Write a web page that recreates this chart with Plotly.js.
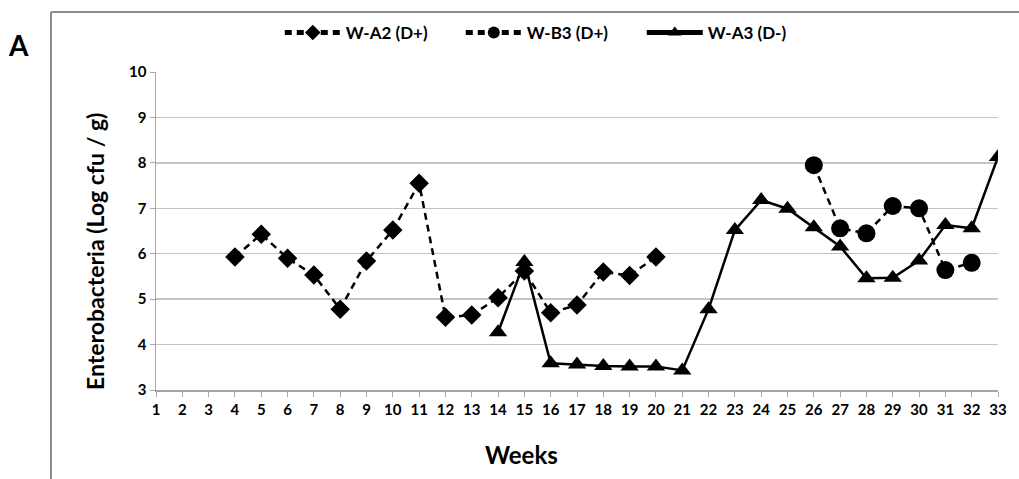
<!DOCTYPE html>
<html><head><meta charset="utf-8">
<script src="https://cdn.plot.ly/plotly-3.0.1.min.js"></script>
<style>html,body{margin:0;padding:0;background:#fff}#chart{width:1019px;height:479px}</style>
</head><body><div id="chart"></div>
<script>
const weeksA2 = [4,5,6,7,8,9,10,11,12,13,14,15,16,17,18,19,20];
const valuesA2 = [5.93,6.43,5.90,5.53,4.78,5.84,6.52,7.55,4.60,4.65,5.03,5.62,4.70,4.87,5.60,5.52,5.93];
const weeksB3 = [26,27,28,29,30,31,32];
const valuesB3 = [7.95,6.56,6.45,7.05,7.00,5.64,5.80];
const weeksA3 = [14,15,16,17,18,19,20,21,22,23,24,25,26,27,28,29,30,31,32,33];
const valuesA3 = [4.27,5.82,3.59,3.56,3.53,3.52,3.52,3.43,4.78,6.52,7.18,6.99,6.58,6.16,5.46,5.47,5.85,6.63,6.56,8.13];
const xTicks = Array.from({length:33},(_,i)=>i+1);
const seriesNames = ['W-A2 (D+)','W-B3 (D+)','W-A3 (D-)'];
const xTitle = 'Weeks';
const yTitle = 'Enterobacteria (Log cfu / g)';

const F = 'Lato, "Open Sans", sans-serif';
const traces = [
  {x:weeksA2,y:valuesA2,name:seriesNames[0],mode:'lines+markers',
   line:{color:'#000',width:2.5,dash:'7px,5px'},marker:{symbol:'diamond',size:15,color:'#000'}},
  {x:weeksB3,y:valuesB3,name:seriesNames[1],mode:'lines+markers',
   line:{color:'#000',width:2.5,dash:'7px,5px'},marker:{symbol:'circle',size:18,color:'#000'}},
  {x:weeksA3,y:valuesA3,name:seriesNames[2],mode:'lines+markers',
   line:{color:'#000',width:2.5},marker:{symbol:'triangle-up',size:16,color:'#000'}}
];
const layout = {
  width:1019,height:479,
  margin:{l:156,r:21,t:72,b:89,autoexpand:false},
  paper_bgcolor:'#fff',plot_bgcolor:'#fff',
  showlegend:true,
  legend:{orientation:'h',x:0.147,xanchor:'left',y:1.123,yanchor:'middle',
    bgcolor:'rgba(0,0,0,0)',itemsizing:'constant',
    font:{family:F,size:17,color:'#000',weight:'bold'},itemwidth:56,entrywidth:110},
  xaxis:{range:[1,33],tickvals:xTicks,ticktext:xTicks.map(String),
    showgrid:false,zeroline:false,showline:true,linecolor:'#a6a6a6',linewidth:1.5,
    ticks:'outside',ticklen:5,tickcolor:'#a6a6a6',
    tickfont:{family:F,size:15,color:'#000',weight:'bold'}},
  yaxis:{range:[3,10],dtick:1,tick0:3,
    showgrid:true,gridcolor:'#c4c4c4',gridwidth:1.5,zeroline:false,
    showline:true,linecolor:'#a6a6a6',linewidth:1.5,
    ticks:'outside',ticklen:5,tickcolor:'#a6a6a6',
    tickfont:{family:F,size:15,color:'#000',weight:'bold'}},
  annotations:[
    {xref:'paper',yref:'paper',x:-0.163,y:1.085,text:'A',showarrow:false,
     font:{family:F,size:28,color:'#000',weight:'bold'},xanchor:'center',yanchor:'middle'},
    {xref:'paper',yref:'paper',x:(521-156)/842,y:(390-454)/318,text:xTitle,showarrow:false,
     font:{family:F,size:24,color:'#000',weight:'bold'},xanchor:'center',yanchor:'middle'},
    {xref:'paper',yref:'paper',x:(95-156)/842,y:(390-252)/318,text:yTitle,showarrow:false,textangle:-90,
     font:{family:F,size:23,color:'#000',weight:'bold'},xanchor:'center',yanchor:'middle'}
  ],
  shapes:[
    {type:'line',xref:'paper',yref:'paper',x0:-0.1247,x1:-0.1247,y0:1.189,y1:-0.3,line:{color:'#8c8c8c',width:2}},
    {type:'line',xref:'paper',yref:'paper',x0:-0.1247,x1:1.05,y0:1.189,y1:1.189,line:{color:'#8c8c8c',width:2}}
  ]
};
Plotly.newPlot('chart',traces,layout,{displayModeBar:false,staticPlot:true});
</script></body></html>
